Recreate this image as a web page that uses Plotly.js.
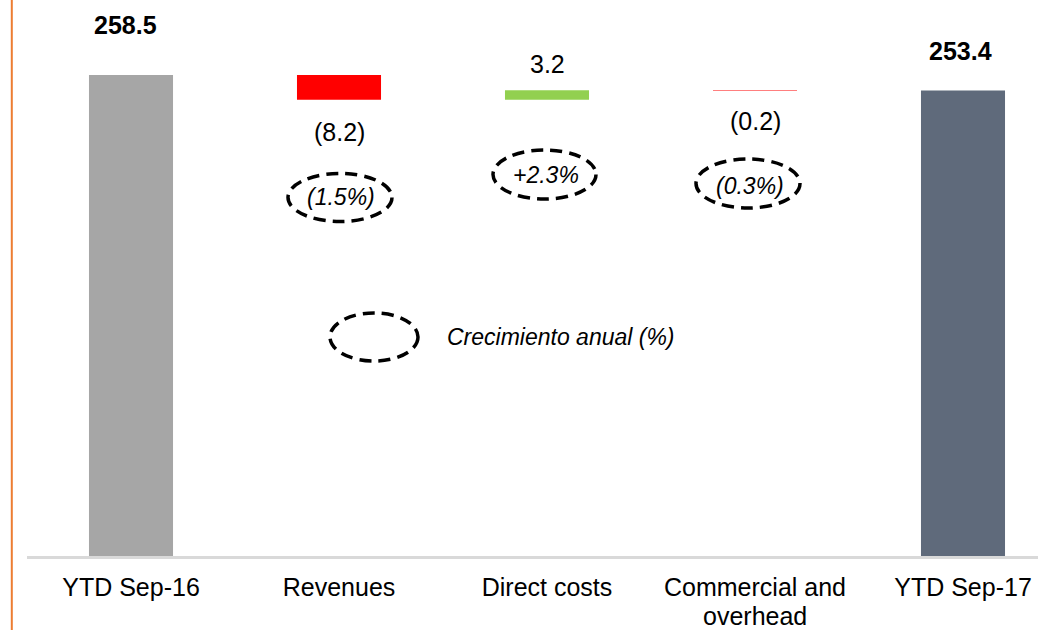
<!DOCTYPE html>
<html>
<head>
<meta charset="utf-8">
<script src="https://cdn.plot.ly/plotly-3.0.1.min.js"></script>
<style>
  html, body { margin: 0; padding: 0; background: #fff; }
  #chart { width: 1038px; height: 630px; }
</style>
</head>
<body>
<div id="chart"></div>
<script>
// ---- Data ----
const categories = ["YTD Sep-16", "Revenues", "Direct costs", "Commercial and<br>overhead", "YTD Sep-17"];
const values = [258.5, -8.2, 3.2, -0.2, 253.4];
const measures = ["total", "relative", "relative", "relative", "total"];
const valueLabels = ["258.5", "(8.2)", "3.2", "(0.2)", "253.4"];
const growthLabels = ["", "(1.5%)", "+2.3%", "(0.3%)", ""];
const legendLabel = "Crecimiento anual (%)";

// ---- Styles ----
const colTotalStart = "#A6A6A6";
const colTotalEnd = "#5F6A7B";
const colUp = "#92D050";
const colDown = "#FF0000";
const FONT = "Liberation Sans, Arial, sans-serif";

// ---- Build bars (waterfall via base) ----
const idx = categories.map((_, i) => i);
const bases = [], heights = [], colors = [], tops = [], bottoms = [];
let running = 0;
values.forEach((v, i) => {
  if (measures[i] === "total") {
    bases.push(0); heights.push(v); running = v;
    colors.push(i === 0 ? colTotalStart : colTotalEnd);
    tops.push(v); bottoms.push(v);
  } else {
    const start = running, end = running + v;
    bases.push(Math.min(start, end)); heights.push(Math.abs(v));
    colors.push(v >= 0 ? colUp : colDown);
    tops.push(Math.max(start, end)); bottoms.push(Math.min(start, end));
    running = end;
  }
});

const trace = {
  type: "bar",
  x: idx,
  y: heights,
  base: bases,
  width: 0.404,
  marker: { color: colors, line: { width: 0 } },
  hoverinfo: "skip"
};

// layout geometry (pixels)
const L = 27, W = 1011, PH = 556;
const xr = [-0.5, -0.5 + W / 208];
const yr = [100, 100 + PH / 3.035];
const dx = px => xr[0] + (px - L) / W * (xr[1] - xr[0]);
const dy = py => yr[0] + (PH - py) / PH * (yr[1] - yr[0]);
const py2paper = py => (PH - py) / PH;

const annotations = [];
// value labels: above for totals and increases, below for decreases
const shifts = [ {x:-6, y:50}, {x:0, y:-32}, {x:0, y:26}, {x:0, y:-30}, {x:-3, y:39} ];
values.forEach((v, i) => {
  const isTotal = measures[i] === "total";
  const above = isTotal || v >= 0;
  annotations.push({
    x: i, y: above ? tops[i] : bottoms[i],
    xref: "x", yref: "y",
    text: isTotal ? "<b>" + valueLabels[i] + "</b>" : valueLabels[i],
    showarrow: false, xshift: shifts[i].x, yshift: shifts[i].y,
    font: { family: FONT, size: 25, color: "#000" },
    xanchor: "center", yanchor: "middle"
  });
});

// category labels: first line as tick label, extra lines as tight annotations
const tickFirst = categories.map(c => c.split("<br>")[0]);
categories.forEach((c, i) => {
  const lines = c.split("<br>");
  lines.slice(1).forEach((ln, k) => {
    annotations.push({
      x: i, y: py2paper(616 + 30 * k), xref: "x", yref: "paper",
      text: ln, showarrow: false, xanchor: "center", yanchor: "middle",
      font: { family: FONT, size: 25, color: "#000" }
    });
  });
});

// growth ellipses (pixel centers) and labels
const ellipses = [
  { i: 1, cx: 340, cy: 197.5, rx: 52, ry: 24, tx: 341, ty: 197 },
  { i: 2, cx: 544.5, cy: 174.5, rx: 51.5, ry: 24.5, tx: 546, ty: 175 },
  { i: 3, cx: 748, cy: 183.5, rx: 52, ry: 24.5, tx: 749.5, ty: 186 }
];
const shapes = [];
const dash = "12px,7px";
ellipses.forEach(e => {
  shapes.push({
    type: "circle", xref: "x", yref: "y",
    x0: dx(e.cx - e.rx), x1: dx(e.cx + e.rx),
    y0: dy(e.cy + e.ry), y1: dy(e.cy - e.ry),
    line: { color: "#000", width: 3.5, dash: dash }
  });
  annotations.push({
    x: dx(e.tx), y: dy(e.ty), xref: "x", yref: "y",
    text: "<i>" + growthLabels[e.i] + "</i>",
    showarrow: false, xanchor: "center", yanchor: "middle",
    font: { family: FONT, size: 23, color: "#000" }
  });
});
// legend ellipse
shapes.push({
  type: "circle", xref: "x", yref: "y",
  x0: dx(330), x1: dx(418), y0: dy(361), y1: dy(313),
  line: { color: "#000", width: 3.5, dash: dash }
});
annotations.push({
  x: dx(445), y: dy(337), xref: "x", yref: "y",
  text: "<i>" + legendLabel + "</i>",
  showarrow: false, xanchor: "left", yanchor: "middle",
  font: { family: FONT, size: 23, color: "#000" }
});
// orange vertical line on the left
shapes.push({
  type: "line", xref: "paper", yref: "paper",
  x0: (11.8 - L) / W, x1: (11.8 - L) / W,
  y0: -(630 - PH) / PH, y1: 1,
  line: { color: "#ED7D31", width: 2 }
});

const layout = {
  width: 1038, height: 630,
  margin: { l: L, r: 1038 - L - W, t: 0, b: 630 - PH, pad: 0 },
  paper_bgcolor: "#fff", plot_bgcolor: "#fff",
  showlegend: false,
  xaxis: {
    range: xr, tickvals: idx, ticktext: tickFirst,
    showgrid: false, zeroline: false,
    showline: true, linecolor: "#D9D9D9", linewidth: 3,
    ticks: "", ticklabelstandoff: 7,
    tickfont: { family: FONT, size: 25, color: "#000" },
    fixedrange: true
  },
  yaxis: {
    range: yr, visible: false, showgrid: false, zeroline: false, fixedrange: true
  },
  annotations: annotations,
  shapes: shapes
};

Plotly.newPlot("chart", [trace], layout, { displayModeBar: false, staticPlot: true });
</script>
</body>
</html>
